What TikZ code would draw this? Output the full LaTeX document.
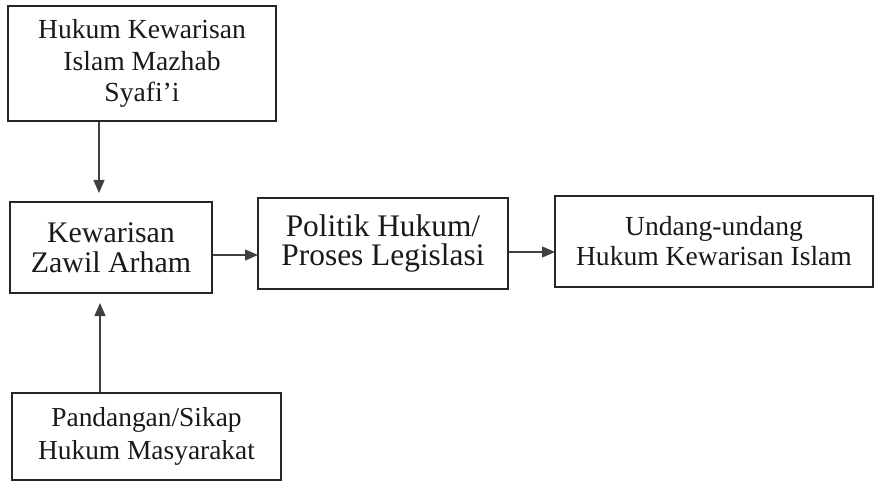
\documentclass[tikz,border=0pt]{standalone}
\usepackage{fontspec}
\setmainfont{Liberation Serif}
\usetikzlibrary{arrows.meta}
\begin{document}
\begin{tikzpicture}[x=1bp,y=-1bp,
  box/.style={draw=black!85,line width=1.4bp,align=center,inner sep=0pt,text=black!90},
  txtA/.style={font=\fontsize{27.7}{32}\selectfont},
  txtB/.style={font=\fontsize{30}{30}\selectfont},
  txtC/.style={font=\fontsize{31.5}{30}\selectfont},
  txtD/.style={font=\fontsize{27.7}{30}\selectfont},
  txtE/.style={font=\fontsize{27.5}{33}\selectfont},
  arr/.style={line width=1.3bp,draw=black!75,-{Triangle[length=13bp,width=11bp]}}]
\useasboundingbox (0,0) rectangle (877,483);
\node[box,txtA,minimum width=268bp,minimum height=115bp] (b1) at (142,63.5) {Hukum Kewarisan\\Islam Mazhab\\Syafi’i};
\node[box,txtB,minimum width=202bp,minimum height=91bp] (b2) at (111,247.5) {Kewarisan\\Zawil Arham};
\node[box,txtC,minimum width=250bp,minimum height=91bp] (b3) at (383,243.5) {Politik Hukum/\\Proses Legislasi};
\node[box,txtD,minimum width=318bp,minimum height=91bp] (b4) at (714,241.5) {Undang-undang\\Hukum Kewarisan Islam};
\node[box,txtE,minimum width=269bp,minimum height=87bp] (b5) at (146.5,436.5) {Pandangan/Sikap\\Hukum Masyarakat};
\coordinate (t1) at (99,193);
\coordinate (t5) at (100,303);
\coordinate (h2) at (258,255);
\coordinate (h3) at (555,252);
\draw[arr] (b1.south -| t1) -- (t1);
\draw[arr] (b5.north -| t5) -- (t5);
\draw[arr] (b2.east |- h2) -- (h2);
\draw[arr] (b3.east |- h3) -- (h3);
\end{tikzpicture}
\end{document}
